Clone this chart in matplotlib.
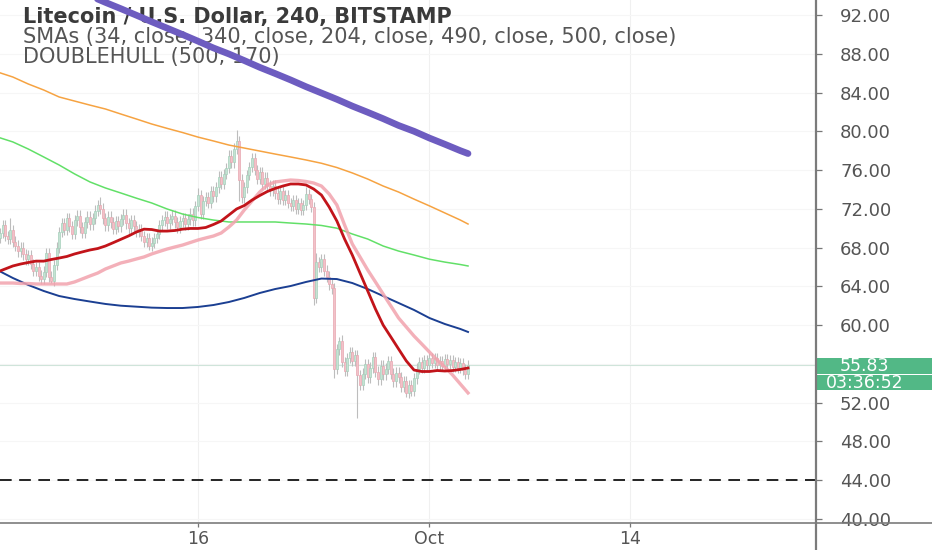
import numpy as np
import pandas as pd
import matplotlib
matplotlib.use("Agg")
import matplotlib.pyplot as plt
import matplotlib.dates as mdates
import matplotlib.transforms as mtransforms
from matplotlib.patches import Rectangle
from matplotlib.lines import Line2D

# LTC/USD Bitstamp, 4h candles
candle_start = "2018-09-03 04:00"
first_open = 69.0
closes = [69.5, 70.3, 69.2, 68.9,
          69.8, 68.6, 68.2, 67.6, 68.0, 67.3,
          66.8, 67.2, 66.3, 65.6, 66.0, 65.1, 64.8, 65.5,
          67.4, 65.0, 64.6, 66.2, 68.0, 69.6,
          70.5, 69.8, 71.0, 70.2, 69.4, 70.8, 71.3, 70.1, 69.5, 70.6, 71.2, 70.4, 71.0, 71.8, 72.4,
          72.0, 71.0, 70.3, 71.2, 70.6, 69.9, 70.7, 70.2,
          70.9, 71.4, 70.5, 70.0, 70.8, 70.2, 69.6, 69.9,
          69.2, 68.6, 69.0, 68.2, 68.5, 69.0, 69.4,
          70.3, 70.8, 71.2, 70.5, 70.9, 71.3, 70.6, 70.1, 70.7, 71.0,
          70.4, 70.9, 71.5, 70.8, 72.3, 73.4, 71.5, 72.8,
          73.2, 72.6, 73.8, 73.3, 74.2, 75.3, 74.6, 75.6,
          76.2, 77.5, 76.8, 78.2, 79.0, 75.0, 73.2,
          74.2, 75.5, 76.3, 77.2, 76.0, 75.1, 75.8, 74.6, 75.2, 74.4,
          73.9, 74.4, 73.6, 73.0, 73.8, 72.9, 73.4, 72.6,
          72.3, 72.9, 72.0, 72.6, 71.9, 72.4, 73.5, 73.0, 72.2,
          62.8, 66.5, 66.0, 66.8, 65.6, 65.0, 64.2, 63.8,
          55.5, 57.5, 58.4, 56.2, 55.3, 56.6, 57.2, 56.3, 56.9,
          54.8, 53.8, 55.0, 56.0, 54.6, 55.6, 56.7, 55.2, 54.4, 55.8, 54.9,
          55.5, 56.3, 55.0, 54.2, 55.1, 54.6,
          53.6, 54.2, 53.0, 53.8, 53.2, 54.5,
          55.5, 56.2, 55.6, 56.4, 55.9, 56.6,
          56.1, 56.6, 55.9, 56.3, 55.8, 56.5, 56.0, 56.4, 55.7, 56.2, 55.6, 56.1, 55.4, 55.0, 55.83]
# wicks that stick out (candle index -> price)
wick_highs = {4: 71.0, 39: 73.2, 77: 74.1, 92: 80.1, 98: 77.8, 119: 74.3, 123: 67.4, 132: 58.8}
wick_lows = {20: 64.3, 58: 67.7, 93: 72.8, 122: 62.1, 130: 54.5, 139: 50.4, 158: 52.6}
wick = 0.55

# indicator lines, daily samples
daily_times = list(pd.date_range("2018-09-03", "2018-10-03", freq="D")) + [pd.Timestamp("2018-10-03 12:00")]
sma_purple = [97.9, 97.3, 96.6, 96.0, 95.3, 94.65, 93.98, 93.3, 92.65, 91.98, 91.3, 90.64, 89.98, 89.3, 88.6, 87.98,
              87.3, 86.6, 85.96, 85.3, 84.6, 83.95, 83.3, 82.6, 81.96, 81.3, 80.6, 80.0, 79.3, 78.66, 78.0, 77.7]
sma_orange = [86.12, 85.6, 84.88, 84.26, 83.54, 83.12, 82.7, 82.3, 81.78, 81.27, 80.75, 80.3, 79.87, 79.4, 79.0, 78.58,
              78.27, 77.96, 77.65, 77.35, 77.04, 76.7, 76.26, 75.7, 75.07, 74.35, 73.73, 73.0, 72.3, 71.57, 70.84, 70.43]
sma_green = [79.41, 78.9, 78.17, 77.35, 76.52, 75.6, 74.77, 74.15, 73.63, 73.1, 72.6, 71.98, 71.46, 71.1, 70.84, 70.64,
             70.64, 70.64, 70.64, 70.53, 70.43, 70.28, 70.0, 69.4, 68.88, 68.16, 67.64, 67.23, 66.8, 66.5, 66.25, 66.1]
sma_blue = [65.68, 64.86, 64.14, 63.52, 63.0, 62.69, 62.43, 62.18, 62.0, 61.9, 61.8, 61.76, 61.76, 61.87, 62.07, 62.38,
            62.8, 63.31, 63.72, 64.03, 64.45, 64.8, 64.75, 64.34, 63.72, 63.0, 62.28, 61.56, 60.73, 60.11, 59.6, 59.29]

# double hull, 12h samples
half_day_times = pd.date_range("2018-09-03", periods=62, freq="12h")
hull_fast = [65.48, 65.79, 66.10, 66.30, 66.46, 66.60, 66.60, 66.77, 66.92, 67.08,
             67.34, 67.55, 67.75, 67.90, 68.16, 68.50, 68.85, 69.20, 69.60, 69.90,
             69.86, 69.70, 69.70, 69.76, 69.90, 69.97, 69.97, 70.07, 70.38, 70.74,
             71.36, 71.98, 72.34, 72.90, 73.37, 73.79, 74.10, 74.35, 74.56, 74.56,
             74.46, 74.04, 73.42, 72.19, 70.74, 68.88, 67.23, 65.37, 63.52, 61.66,
             60.00, 58.77, 57.53, 56.30, 55.36, 55.21, 55.21, 55.31, 55.26, 55.31,
             55.42, 55.57]
hull_slow = [64.34, 64.34, 64.34, 64.29, 64.29, 64.24, 64.24, 64.24, 64.24, 64.24,
             64.45, 64.76, 65.07, 65.37, 65.79, 66.10, 66.41, 66.60, 66.82, 67.03,
             67.34, 67.60, 67.85, 68.06, 68.26, 68.52, 68.78, 68.99, 69.19, 69.50,
             70.12, 70.84, 71.88, 72.80, 73.73, 74.46, 74.77, 74.87, 74.97, 74.92,
             74.82, 74.66, 74.35, 73.53, 72.39, 70.33, 68.37, 67.03, 65.68, 64.45,
             63.20, 61.97, 60.73, 59.80, 58.87, 58.05, 57.22, 56.40, 55.67, 54.85,
             53.92, 53.00]

support = 44.0
last_price = closes[-1]
timer = "03:36:52"
title_lines = ["Litecoin / U.S. Dollar, 240, BITSTAMP",
               "SMAs (34, close, 340, close, 204, close, 490, close, 500, close)",
               "DOUBLEHULL (500, 170)"]
y_ticks = np.arange(40, 93, 4)
x_tick_dates = ["2018-09-16", "2018-10-01", "2018-10-14"]
x_tick_labels = ["16", "Oct", "14"]

W, H = 932, 550
fig = plt.figure(figsize=(W / 100, H / 100), dpi=100)
ax = fig.add_axes([0, 27 / H, 815 / W, 523 / H])

# candles
times = mdates.date2num(pd.date_range(candle_start, periods=len(closes), freq="4h"))
opens = [first_open] + closes[:-1]
for i, (t, o, c) in enumerate(zip(times, opens, closes)):
    up = c >= o
    hi = wick_highs.get(i, max(o, c) + wick)
    lo = wick_lows.get(i, min(o, c) - wick)
    ax.vlines(t, lo, hi, color="#bdbdbd", lw=0.8, zorder=2)
    body = max(abs(c - o), 0.15)
    ax.bar(t, body, bottom=min(o, c), width=0.13,
           color="#c6e2d4" if up else "#f2c2c9",
           edgecolor="#a6d0bb" if up else "#e9a7b1", lw=0.5, zorder=3)

dn = mdates.date2num(daily_times)
hn = mdates.date2num(half_day_times)
ax.plot(dn, sma_purple, color="#6d5cc0", lw=4.8, solid_capstyle="round", zorder=9)
ax.plot(dn, sma_orange, color="#f6a342", lw=1.1, zorder=5)
ax.plot(dn, sma_green, color="#62e068", lw=1.1, zorder=5)
ax.plot(dn, sma_blue, color="#1b3f92", lw=1.4, zorder=5)
ax.plot(hn, hull_slow, color="#f2a2ad", lw=2.4, alpha=0.85, zorder=5)
ax.plot(hn, hull_fast, color="#c2141a", lw=2.0, zorder=6)

ax.axhline(support, color="black", lw=1.2, dashes=(7, 4.5), zorder=4)
ax.axhline(last_price, color="#cfe4da", lw=0.8, zorder=1)

# grid
for d in x_tick_dates:
    ax.axvline(mdates.date2num(pd.Timestamp(d)), color="#f0f0f0", lw=0.8, zorder=0)
for v in y_ticks:
    ax.axhline(v, color="#f6f6f6", lw=0.8, zorder=0)

x0 = mdates.date2num(pd.Timestamp("2018-09-16")) - 198 / 15.43
ax.set_xlim(x0, x0 + 815 / 15.43)
ax.set_ylim(92 - 508 / 9.69, 92 + 15 / 9.69)

ax.yaxis.tick_right()
ax.set_yticks(y_ticks)
ax.set_yticklabels([f"{v:.2f}" for v in y_ticks])
ax.tick_params(axis="y", length=5, width=0.9, color="#777777", labelcolor="#555555",
               labelsize=13, pad=13)
ax.set_xticks(mdates.date2num(pd.to_datetime(x_tick_dates)))
ax.set_xticklabels(x_tick_labels)
ax.tick_params(axis="x", length=3, width=0.9, color="#777777", labelcolor="#555555",
               labelsize=12.5, pad=2)
for s in ax.spines.values():
    s.set_visible(False)

# price scale borders
fig.add_artist(Line2D([815.5 / W, 815.5 / W], [0, 1], color="#7b7b7b", lw=1.6))
fig.add_artist(Line2D([0, 1], [27 / H, 27 / H], color="#7b7b7b", lw=1.2))

# legend texts
for k, line in enumerate(title_lines):
    ax.text(23 / 815, 1 - (23 + 20 * k) / 523, line, transform=ax.transAxes,
            fontsize=15, color="#3a3a3a" if k == 0 else "#555555",
            fontweight="semibold" if k == 0 else "normal",
            va="baseline", ha="left", clip_on=True, zorder=8)

# last price tags
bt = mtransforms.blended_transform_factory(fig.transFigure, ax.transData)
fig.add_artist(Rectangle((816.5 / W, last_price - 0.85), 120 / W, 1.65, transform=bt,
                         facecolor="#52b886", edgecolor="none"))
fig.add_artist(Rectangle((816.5 / W, last_price - 2.58), 120 / W, 1.62, transform=bt,
                         facecolor="#52b886", edgecolor="none"))
fig.text(840 / W, last_price - 0.03, f"{last_price:.2f}", transform=bt, color="white",
         fontsize=12.5, va="center", ha="left")
fig.text(826 / W, last_price - 1.76, timer, transform=bt, color="white",
         fontsize=12.5, va="center", ha="left")

fig.savefig("out.png", dpi=100, facecolor="white")
